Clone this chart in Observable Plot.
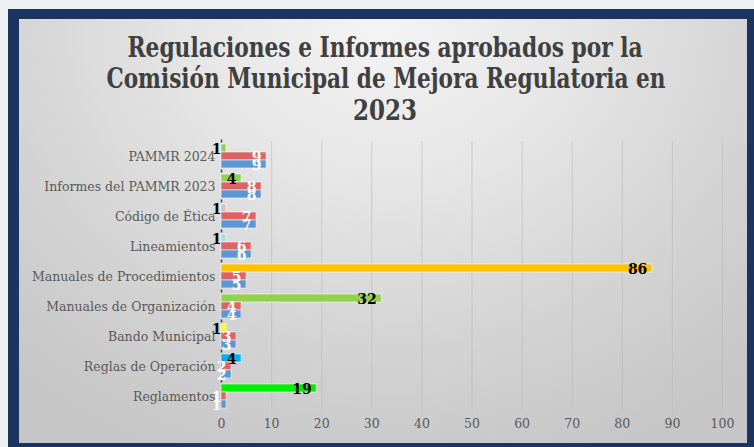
<!DOCTYPE html>
<html>
<head>
<meta charset="utf-8">
<script src="https://cdn.jsdelivr.net/npm/d3@7"></script>
<script src="https://cdn.jsdelivr.net/npm/@observablehq/plot@0.6"></script>
<style>
  html, body { margin: 0; padding: 0; }
  body { width: 754px; height: 447px; overflow: hidden; background: #eef0f3; position: relative; }
  #frame { position: absolute; left: 8px; top: 9px; width: 746px; height: 438px; background: #1d3461; }
  #panel { position: absolute; left: 19px; top: 19px; width: 728px; height: 424px;
    background: radial-gradient(ellipse 75% 110% at 50% 0%, #f4f4f4 0%, #e6e6e6 35%, #d6d6d6 65%, #c6c6c6 100%); }
  #title { position: absolute; left: 0; top: 0; }
  #chart { position: absolute; left: 0; top: 0; }
</style>
</head>
<body>
<div id="frame"></div>
<div id="panel"></div>
<div id="chart"></div>
<svg id="title" width="754" height="130" xmlns="http://www.w3.org/2000/svg"
  font-family="DejaVu Serif, serif" font-weight="bold" font-size="24" fill="#404040" text-anchor="middle">
  <text transform="translate(385,57) scale(1,1.13)" x="0" y="0" textLength="515" lengthAdjust="spacingAndGlyphs">Regulaciones e Informes aprobados por la</text>
  <text transform="translate(386,88) scale(1,1.13)" x="0" y="0" textLength="559" lengthAdjust="spacingAndGlyphs">Comisión Municipal de Mejora Regulatoria en</text>
  <text transform="translate(385,120) scale(1,1.13)" x="0" y="0" textLength="64" lengthAdjust="spacingAndGlyphs">2023</text>
</svg>
<script>
const categories = ["PAMMR 2024", "Informes del PAMMR 2023", "Código de Ética", "Lineamientos",
  "Manuales de Procedimientos", "Manuales de Organización", "Bando Municipal", "Reglas de Operación", "Reglamentos"];
const seriesBlue = [9, 8, 7, 6, 5, 4, 3, 2, 1];
const seriesRed = [9, 8, 7, 6, 5, 4, 3, 2, 1];
const seriesThird = [1, 4, 1, 1, 86, 32, 1, 4, 19];
const xTicks = [0, 10, 20, 30, 40, 50, 60, 70, 80, 90, 100];

const thirdPalette = ["#92d050", "#92d050", "#e6b8b7", "#a6dbe8", "#ffc000", "#92d050", "#ffff00", "#00b0f0", "#00ee00"];
const blueColor = "#5b97d3";
const redColor = "#dc6464";

const rows = [];
categories.forEach((c, i) => {
  rows.push({category: c, series: "third", value: seriesThird[i], fill: thirdPalette[i], label: "#000000"});
  rows.push({category: c, series: "red", value: seriesRed[i], fill: redColor, label: "#ffffff"});
  rows.push({category: c, series: "blue", value: seriesBlue[i], fill: blueColor, label: "#ffffff"});
});

const chart = Plot.plot({
  width: 754,
  height: 447,
  marginLeft: 221,
  marginRight: 32,
  marginTop: 140,
  marginBottom: 35,
  style: {background: "transparent", fontFamily: "DejaVu Serif", fontSize: "12.5px", color: "#595959", overflow: "visible"},
  facet: {data: rows, y: "category"},
  fy: {domain: categories, padding: 0, label: null, tickSize: 0, tickPadding: 6},
  y: {domain: ["third", "red", "blue"], axis: null, paddingInner: 0, paddingOuter: 0.26},
  x: {domain: [0, 100], ticks: xTicks, tickSize: 0, tickPadding: 8, label: null, line: false},
  color: {type: "identity"},
  marks: [
    Plot.ruleX(xTicks.slice(1), {stroke: "#b8b8b8", strokeOpacity: 0.55, strokeWidth: 1}),
    Plot.ruleX([0], {stroke: "#444", strokeWidth: 1.5, insetTop: -1.5, insetBottom: 28.5}),
    Plot.barX(rows, {y: "series", x: "value", fill: "fill", stroke: "#ffffff", strokeOpacity: 0.55, strokeWidth: 1, inset: 0}),
    Plot.text(rows, {y: "series", x: "value", text: d => String(d.value), fill: "label", textAnchor: "end", dx: -5, dy: 1,
      fontFamily: "DejaVu Serif", fontWeight: "bold", fontSize: 14})
  ]
});
document.getElementById("chart").appendChild(chart);
</script>
</body>
</html>
